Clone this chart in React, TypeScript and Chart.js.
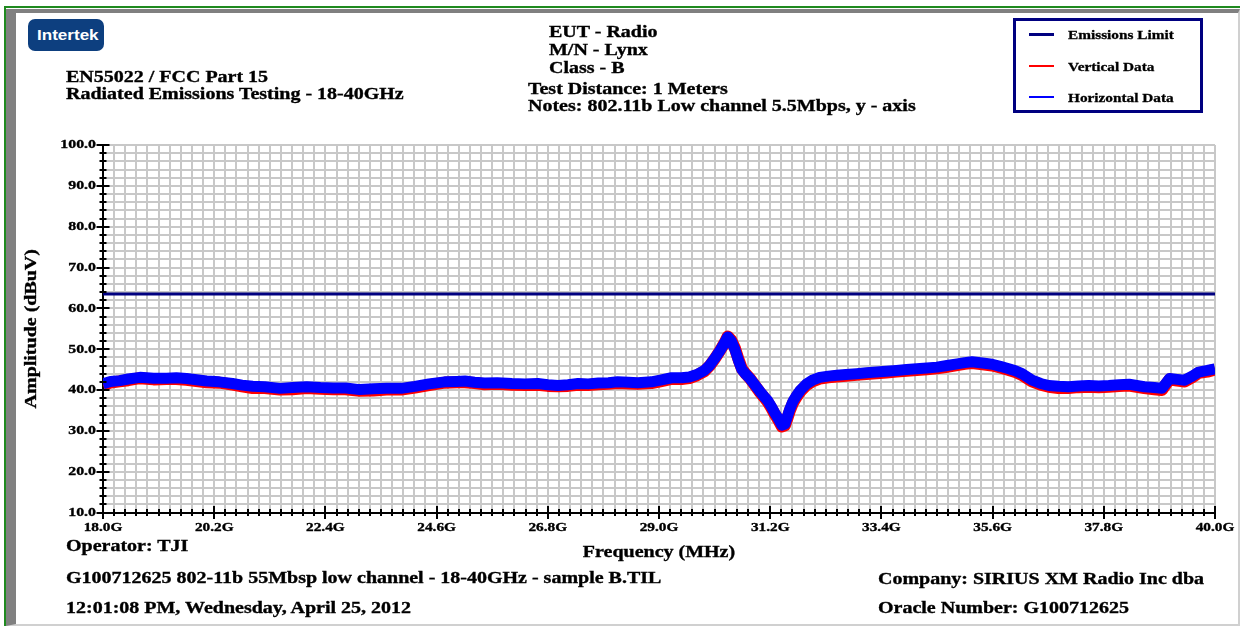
import React, { useEffect, useRef } from 'react';
import { Chart, registerables } from 'chart.js';

Chart.register(...registerables);

// ---- data ----
const traceFreq = [
  18.0, 18.15, 18.33, 18.5, 18.73, 19.0, 19.26, 19.45, 19.65, 19.85,
  20.05, 20.3, 20.56, 20.75, 20.96, 21.2, 21.5, 21.75, 22.03, 22.3,
  22.55, 22.8, 23.08, 23.35, 23.61, 23.9, 24.17, 24.45, 24.76, 25.0,
  25.16, 25.35, 25.55, 25.8, 26.09, 26.35, 26.6, 26.8, 27.0, 27.2,
  27.4, 27.6, 27.8, 28.0, 28.18, 28.4, 28.58, 28.85, 29.05, 29.25,
  29.45, 29.6, 29.75, 29.9, 30.0, 30.1, 30.2, 30.3, 30.36, 30.43,
  30.5, 30.57, 30.64, 30.72, 30.8, 30.9, 31.0, 31.08, 31.15, 31.22,
  31.29, 31.36, 31.43, 31.49, 31.54, 31.59, 31.65, 31.72, 31.8, 31.92,
  32.05, 32.18, 32.35, 32.52, 32.7, 32.91, 33.1, 33.3, 33.5, 33.7,
  33.9, 34.1, 34.3, 34.5, 34.7, 34.9, 35.05, 35.19, 35.4, 35.59,
  35.75, 35.92, 36.05, 36.18, 36.28, 36.38, 36.55, 36.71, 36.9, 37.1,
  37.3, 37.5, 37.7, 37.9, 38.1, 38.3, 38.45, 38.6, 38.8, 38.95,
  39.02, 39.1, 39.25, 39.4, 39.55, 39.68, 39.85, 40.0,
];

const horizontalData = [
  41.5, 42.1, 42.3, 42.7, 43.1, 42.9, 42.9, 43.0, 42.8, 42.5,
  42.2, 42.0, 41.6, 41.2, 40.9, 40.8, 40.4, 40.6, 40.8, 40.6,
  40.5, 40.5, 40.1, 40.3, 40.4, 40.4, 40.9, 41.5, 42.0, 42.1,
  42.2, 41.9, 41.7, 41.8, 41.6, 41.5, 41.6, 41.3, 41.1, 41.3,
  41.6, 41.5, 41.7, 41.8, 42.0, 41.9, 41.8, 42.0, 42.5, 43.0,
  43.0, 43.2, 43.8, 44.8, 46.0, 47.7, 49.5, 51.6, 53.0, 52.0,
  50.0, 47.3, 45.0, 43.8, 42.8, 41.2, 39.6, 38.4, 37.4, 36.0,
  34.4, 33.0, 31.4, 31.6, 33.5, 35.4, 37.2, 38.6, 40.0, 41.5,
  42.5, 43.1, 43.4, 43.6, 43.8, 44.0, 44.2, 44.4, 44.6, 44.8,
  45.0, 45.2, 45.4, 45.6, 46.0, 46.4, 46.7, 46.9, 46.6, 46.3,
  45.8, 45.2, 44.7, 44.0, 43.2, 42.4, 41.6, 41.1, 40.9, 40.8,
  41.0, 41.1, 41.0, 41.1, 41.3, 41.4, 41.1, 40.8, 40.6, 40.4,
  41.5, 42.8, 42.6, 42.4, 43.4, 44.4, 44.8, 45.2,
];

const verticalData = [
  41.2, 41.8, 42.1, 42.4, 42.9, 42.6, 42.7, 42.7, 42.5, 42.2,
  41.9, 41.8, 41.3, 40.9, 40.5, 40.5, 40.1, 40.2, 40.5, 40.3,
  40.2, 40.2, 39.8, 39.9, 40.1, 40.1, 40.6, 41.2, 41.8, 41.9,
  41.9, 41.7, 41.4, 41.5, 41.3, 41.2, 41.3, 41.0, 40.9, 41.0,
  41.3, 41.2, 41.4, 41.5, 41.7, 41.6, 41.5, 41.7, 42.2, 42.7,
  42.7, 42.9, 43.6, 44.6, 45.9, 47.6, 49.5, 51.6, 53.1, 52.2,
  50.3, 47.6, 45.2, 43.9, 42.8, 41.1, 39.4, 38.2, 37.1, 35.7,
  34.1, 32.7, 31.1, 31.3, 33.1, 35.0, 36.8, 38.3, 39.7, 41.2,
  42.2, 42.8, 43.1, 43.3, 43.5, 43.7, 43.9, 44.1, 44.3, 44.5,
  44.7, 44.9, 45.1, 45.3, 45.7, 46.1, 46.4, 46.6, 46.3, 46.0,
  45.5, 44.9, 44.4, 43.7, 42.9, 42.1, 41.3, 40.8, 40.5, 40.5,
  40.7, 40.8, 40.7, 40.8, 41.0, 41.1, 40.8, 40.5, 40.2, 40.0,
  41.2, 42.6, 42.3, 42.1, 43.1, 44.2, 44.5, 45.0,
];

const limitFreq = [18.0, 40.0];
const limitData = [63.5, 63.5];

const xTickLabels = ['18.0G', '20.2G', '22.4G', '24.6G', '26.8G', '29.0G', '31.2G', '33.4G', '35.6G', '37.8G', '40.0G'];
const yTickLabels = ['10.0', '20.0', '30.0', '40.0', '50.0', '60.0', '70.0', '80.0', '90.0', '100.0'];

const X_MIN = 18;
const X_MAX = 40;
const X_STEP = 0.22;
const Y_MIN = 10;
const Y_MAX = 100;
const Y_STEP = 2;

// ---- styling ----
const S = 1.176; // glyphs in the reference are stretched along the baseline
const SERIF = '"Liberation Serif", "Times New Roman", serif';
const SANS = '"Liberation Sans", Arial, sans-serif';
const BIG = 17;

const axisTickPlugin = {
  id: 'axisTicks',
  afterDraw(chart: any) {
    const { ctx, chartArea } = chart;
    const xs = chart.scales.x;
    const ys = chart.scales.y;
    ctx.save();
    ctx.strokeStyle = '#000';
    ctx.lineWidth = 2;
    ctx.beginPath();
    ys.ticks.forEach((t: any) => {
      const y = Math.round(ys.getPixelForValue(t.value));
      const major = Math.abs(t.value % 10) < 1e-6;
      const len = major ? 6.5 : 3.5;
      ctx.moveTo(chartArea.left - len, y);
      ctx.lineTo(chartArea.left + len, y);
    });
    xs.ticks.forEach((t: any, i: number) => {
      const x = Math.round(xs.getPixelForValue(t.value));
      const len = i % 10 === 0 ? 6.5 : 3.5;
      ctx.moveTo(x, chartArea.bottom - len);
      ctx.lineTo(x, chartArea.bottom + len);
    });
    ctx.stroke();
    ctx.restore();
  },
};

function Txt({ x, y, size, text, family = SERIF, weight = 'bold', color = '#000', asc = 0.8375, stroke = 0.35 }: any) {
  return (
    <div
      style={{
        position: 'absolute',
        left: x,
        top: y - asc * size,
        fontSize: size,
        lineHeight: `${size}px`,
        fontFamily: family,
        fontWeight: weight as any,
        color,
        whiteSpace: 'nowrap',
        transform: `scaleX(${S})`,
        transformOrigin: '0 0',
        WebkitTextStroke: stroke ? `${stroke}px ${color}` : undefined,
      }}
    >
      {text}
    </div>
  );
}

export default function App() {
  const canvasRef = useRef<HTMLCanvasElement | null>(null);

  useEffect(() => {
    document.body.style.margin = '0';
    const canvas = canvasRef.current!;
    const ctx = canvas.getContext('2d')!;
    const origFill = ctx.fillText.bind(ctx);
    const origStroke = ctx.strokeText.bind(ctx);
    (ctx as any).fillText = (text: string, x: number, y: number) => {
      ctx.save();
      ctx.translate(x, y);
      ctx.scale(S, 1);
      origFill(text, 0, 0);
      ctx.strokeStyle = ctx.fillStyle as any;
      ctx.lineWidth = 0.35;
      origStroke(text, 0, 0);
      ctx.restore();
    };

    const tickFont = (size: number) => ({ family: SERIF, size, weight: 'bold' as const });

    const chart = new Chart(canvas, {
      type: 'line',
      data: {
        datasets: [
          {
            label: 'Emissions Limit',
            data: limitFreq.map((x, i) => ({ x, y: limitData[i] })),
            borderColor: '#000080',
            borderWidth: 3,
            pointRadius: 0,
            tension: 0,
            clip: 0,
            order: 0,
          },
          {
            label: 'Horizontal Data',
            data: traceFreq.map((x, i) => ({ x, y: horizontalData[i] })),
            borderColor: '#0000ff',
            borderWidth: 11,
            borderJoinStyle: 'round',
            pointRadius: 0,
            tension: 0,
            clip: 0,
            order: 1,
          },
          {
            label: 'Vertical Data',
            data: traceFreq.map((x, i) => ({ x, y: verticalData[i] })),
            borderColor: '#ff0000',
            borderWidth: 12,
            borderJoinStyle: 'round',
            pointRadius: 0,
            tension: 0,
            clip: 0,
            order: 2,
          },
        ],
      },
      options: {
        responsive: false,
        animation: false,
        devicePixelRatio: 1,
        events: [],
        layout: { padding: { left: 0, right: 25, top: 145, bottom: 0 } },
        plugins: { legend: { display: false }, tooltip: { enabled: false } },
        scales: {
          x: {
            type: 'linear',
            min: X_MIN,
            max: X_MAX,
            afterBuildTicks: (scale: any) => {
              const n = Math.round((X_MAX - X_MIN) / X_STEP);
              scale.ticks = Array.from({ length: n + 1 }, (_, i) => ({
                value: Math.round((X_MIN + i * X_STEP) * 1000) / 1000,
              }));
            },
            afterFit: (scale: any) => {
              scale.height = 113.5;
            },
            ticks: {
              autoSkip: false,
              maxRotation: 0,
              minRotation: 0,
              padding: 7.2,
              color: '#000',
              font: tickFont(13),
              callback: (_v: any, i: number) => (i % 10 === 0 ? xTickLabels[i / 10] : ''),
            },
            grid: { color: '#c8c8c8', lineWidth: 2, drawTicks: false },
            border: { color: '#000', width: 2 },
            title: {
              display: true,
              text: 'Frequency (MHz)',
              color: '#000',
              font: { family: SERIF, size: BIG, weight: 'bold' },
              padding: { top: 0, bottom: 62.8 },
            },
          },
          y: {
            type: 'linear',
            min: Y_MIN,
            max: Y_MAX,
            afterBuildTicks: (scale: any) => {
              const n = Math.round((Y_MAX - Y_MIN) / Y_STEP);
              scale.ticks = Array.from({ length: n + 1 }, (_, i) => ({ value: Y_MIN + i * Y_STEP }));
            },
            afterFit: (scale: any) => {
              scale.width = 103;
            },
            ticks: {
              autoSkip: false,
              padding: 7,
              color: '#000',
              font: tickFont(13.5),
              callback: (v: any) => (v % 10 === 0 ? yTickLabels[(v - 10) / 10] : ''),
            },
            grid: { color: '#c8c8c8', lineWidth: 2, drawTicks: false },
            border: { color: '#000', width: 2 },
            title: {
              display: true,
              text: 'Amplitude (dBuV)',
              color: '#000',
              font: { family: SERIF, size: BIG, weight: 'bold' },
              padding: { top: 21.8, bottom: 0 },
            },
          },
        },
      },
      plugins: [axisTickPlugin],
    } as any);

    return () => {
      chart.destroy();
    };
  }, []);

  const legendRows = [
    { label: 'Emissions Limit', color: '#000080', h: 3, y: 34 },
    { label: 'Vertical Data', color: '#ff0000', h: 1.5, y: 66 },
    { label: 'Horizontal Data', color: '#0000ff', h: 1.5, y: 97 },
  ];

  return (
    <div
      style={{
        position: 'fixed',
        left: 0,
        top: 0,
        width: 1240,
        height: 626,
        overflow: 'hidden',
        background: '#fff',
      }}
    >
      {/* frame */}
      <div style={{ position: 'absolute', left: 4, top: 6, right: 0, bottom: 0, borderTop: '2px solid #1f8a1f', borderLeft: '2px solid #1f8a1f' }} />
      <div
        style={{
          position: 'absolute',
          left: 6,
          top: 9,
          width: 1234,
          height: 617,
          boxSizing: 'border-box',
          borderTop: '4px solid #808080',
          borderLeft: '10px solid #808080',
          borderRight: '2px solid #d0d0d0',
          borderBottom: '2px solid #d0d0d0',
        }}
      />

      <canvas ref={canvasRef} width={1240} height={626} style={{ position: 'absolute', left: 0, top: 0 }} />

      {/* logo */}
      <div style={{ position: 'absolute', left: 28, top: 19, width: 76, height: 32, borderRadius: 7, background: '#0d3f7f' }} />
      <Txt x={37} y={40} size={14.5} text="Intertek" family={SANS} color="#fff" asc={0.8465} stroke={0} weight="600" />

      {/* header left */}
      <Txt x={66} y={82} size={BIG} text="EN55022 / FCC Part 15" />
      <Txt x={66} y={99.5} size={BIG} text="Radiated Emissions Testing - 18-40GHz" />

      {/* header center */}
      <Txt x={549} y={37} size={BIG} text="EUT - Radio" />
      <Txt x={549} y={55} size={BIG} text="M/N - Lynx" />
      <Txt x={549} y={73} size={BIG} text="Class - B" />
      <Txt x={528} y={94} size={BIG} text="Test Distance: 1 Meters" />
      <Txt x={528} y={111.5} size={BIG} text="Notes: 802.11b Low channel 5.5Mbps, y - axis" />

      {/* legend */}
      <div
        style={{
          position: 'absolute',
          left: 1013,
          top: 18,
          width: 190,
          height: 95,
          boxSizing: 'border-box',
          border: '3px solid #000080',
        }}
      />
      {legendRows.map((r) => (
        <React.Fragment key={r.label}>
          <div style={{ position: 'absolute', left: 1029, top: r.y - r.h / 2, width: 25, height: r.h, background: r.color }} />
          <Txt x={1068} y={r.y + 5} size={13} text={r.label} stroke={0.3} />
        </React.Fragment>
      ))}

      {/* footer */}
      <Txt x={66} y={551} size={BIG} text="Operator: TJI" />
      <Txt x={66} y={583} size={BIG} text="G100712625 802-11b 55Mbsp low channel - 18-40GHz - sample B.TIL" />
      <Txt x={66} y={613} size={BIG} text="12:01:08 PM, Wednesday, April 25, 2012" />
      <Txt x={878} y={584} size={BIG} text="Company: SIRIUS XM Radio Inc dba" />
      <Txt x={878} y={613} size={BIG} text="Oracle Number: G100712625" />
    </div>
  );
}
